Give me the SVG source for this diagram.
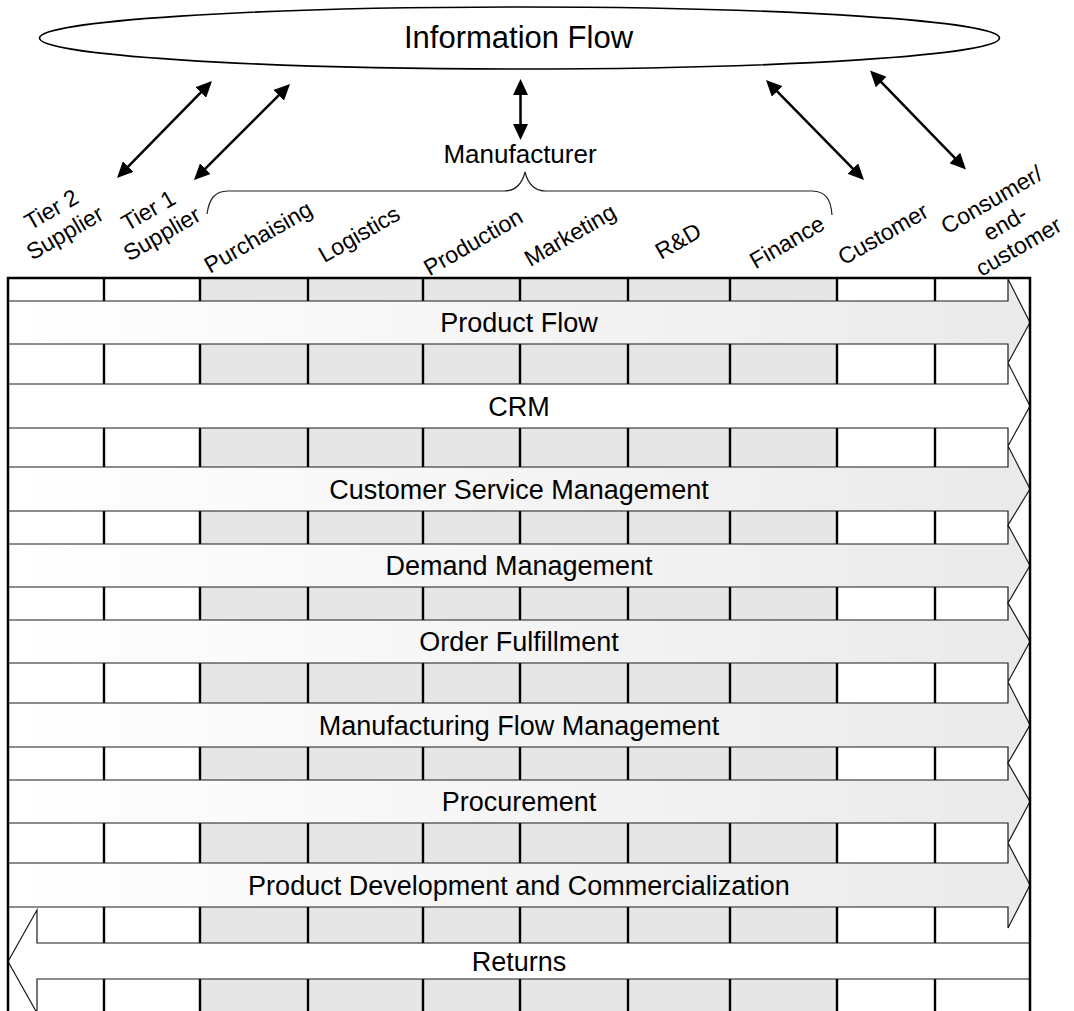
<svg xmlns="http://www.w3.org/2000/svg" width="1074" height="1011" viewBox="0 0 1074 1011">
  <style>
    .txt { font-family: "Liberation Sans", Arial, Helvetica, sans-serif; fill: #000; }
    .big { font-size: 31px; }
    .mid { font-size: 26px; }
    .proc { font-size: 27px; }
    .col { font-size: 23px; }
    .band { stroke: #1a1a1a; stroke-width: 1.2; stroke-linejoin: miter; }
    .shade { fill: url(#bandFill); }
    .plain { fill: #ffffff; }
    .divider { stroke: #000; stroke-width: 2.4; }
    .conn { stroke: #000; stroke-width: 2.5; fill: none; marker-start: url(#head); marker-end: url(#head); }
  </style>
  <defs>
    <linearGradient id="bandFill" x1="0" y1="0" x2="1" y2="0">
      <stop offset="0" stop-color="#ffffff"/>
      <stop offset="1" stop-color="#eaeaea"/>
    </linearGradient>
    <marker id="head" viewBox="0 0 16 15" refX="12" refY="7.5" markerWidth="16" markerHeight="15" markerUnits="userSpaceOnUse" orient="auto-start-reverse">
      <path d="M0,0 L16,7.5 L0,15 z" fill="#000"/>
    </marker>
  </defs>

  <rect width="1074" height="1011" fill="#fff"/>

  <!-- Information flow ellipse -->
  <g id="information-flow">
    <ellipse cx="519.5" cy="38" rx="480" ry="31" fill="#fff" stroke="#000" stroke-width="1.6"/>
    <text class="txt big" x="518.5" y="48" text-anchor="middle">Information Flow</text>
  </g>

  <!-- Manufacturer label with brace over its functions -->
  <g id="manufacturer">
    <text class="txt mid" x="520" y="163" text-anchor="middle">Manufacturer</text>
    <path d="M207,214 C209,200 214,191 228,191 H504 C515,191 522,184 525,172 C528,184 535,191 546,191 H812 C826,191 831,200 832,215" fill="none" stroke="#222" stroke-width="1.2"/>
  </g>

  <!-- Column headings (rotated) -->
  <g id="tier2-supplier" transform="translate(58,221) rotate(-30)">
    <text class="txt col" text-anchor="middle"><tspan x="0" y="-5.5">Tier 2</tspan><tspan x="0" y="21.5">Supplier</tspan></text>
  </g>
  <g id="tier1-supplier" transform="translate(155,222) rotate(-30)">
    <text class="txt col" text-anchor="middle"><tspan x="0" y="-5.5">Tier 1</tspan><tspan x="0" y="21.5">Supplier</tspan></text>
  </g>
  <g id="purchasing" transform="translate(258,237) rotate(-30)">
    <text class="txt col" x="0" y="8" text-anchor="middle">Purchaising</text>
  </g>
  <g id="logistics" transform="translate(359,234) rotate(-30)">
    <text class="txt col" x="0" y="8" text-anchor="middle">Logistics</text>
  </g>
  <g id="production" transform="translate(473,242) rotate(-30)">
    <text class="txt col" x="0" y="8" text-anchor="middle">Production</text>
  </g>
  <g id="marketing" transform="translate(570,235) rotate(-30)">
    <text class="txt col" x="0" y="8" text-anchor="middle">Marketing</text>
  </g>
  <g id="rnd" transform="translate(678,241) rotate(-30)">
    <text class="txt col" x="0" y="8" text-anchor="middle">R&amp;D</text>
  </g>
  <g id="finance" transform="translate(787,242) rotate(-30)">
    <text class="txt col" x="0" y="8" text-anchor="middle">Finance</text>
  </g>
  <g id="customer" transform="translate(883,234) rotate(-30)">
    <text class="txt col" x="0" y="8" text-anchor="middle">Customer</text>
  </g>
  <g id="consumer" transform="translate(1005,223) rotate(-30)">
    <text class="txt col" text-anchor="middle"><tspan x="0" y="-19">Consumer/</tspan><tspan x="0" y="8">end-</tspan><tspan x="0" y="35">customer</tspan></text>
  </g>

  <!-- Function grid behind the process bands -->
  <g id="grid">
    <rect x="200" y="278" width="637" height="740" fill="#e6e6e6"/>
    <g class="divider">
      <line x1="104" y1="278" x2="104" y2="1011"/>
      <line x1="200" y1="278" x2="200" y2="1011"/>
      <line x1="308" y1="278" x2="308" y2="1011"/>
      <line x1="423" y1="278" x2="423" y2="1011"/>
      <line x1="520" y1="278" x2="520" y2="1011"/>
      <line x1="628" y1="278" x2="628" y2="1011"/>
      <line x1="730" y1="278" x2="730" y2="1011"/>
      <line x1="837" y1="278" x2="837" y2="1011"/>
      <line x1="935" y1="278" x2="935" y2="1011"/>
    </g>
  </g>

  <!-- Process bands -->
  <g id="product-flow">
    <path class="band shade" d="M8,301 H1008 V279 L1030,322.5 L1008,363 V344 H8 Z"/>
    <text class="txt proc" x="519" y="332" text-anchor="middle">Product Flow</text>
  </g>
  <g id="crm">
    <path class="band plain" d="M8,384 H1008 V363 L1030,406 L1008,446 V428 H8 Z"/>
    <text class="txt proc" x="519" y="415.5" text-anchor="middle">CRM</text>
  </g>
  <g id="customer-service-management">
    <path class="band shade" d="M8,467 H1008 V446 L1030,489 L1008,525 V511 H8 Z"/>
    <text class="txt proc" x="519" y="498.5" text-anchor="middle">Customer Service Management</text>
  </g>
  <g id="demand-management">
    <path class="band shade" d="M8,544 H1008 V525 L1030,565.5 L1008,603 V587 H8 Z"/>
    <text class="txt proc" x="519" y="575" text-anchor="middle">Demand Management</text>
  </g>
  <g id="order-fulfillment">
    <path class="band shade" d="M8,620 H1008 V603 L1030,641.5 L1008,682 V663 H8 Z"/>
    <text class="txt proc" x="519" y="651" text-anchor="middle">Order Fulfillment</text>
  </g>
  <g id="manufacturing-flow-management">
    <path class="band shade" d="M8,703 H1008 V682 L1030,725 L1008,763 V747 H8 Z"/>
    <text class="txt proc" x="519" y="734.5" text-anchor="middle">Manufacturing Flow Management</text>
  </g>
  <g id="procurement">
    <path class="band shade" d="M8,780 H1008 V763 L1030,801.5 L1008,843 V823 H8 Z"/>
    <text class="txt proc" x="519" y="811" text-anchor="middle">Procurement</text>
  </g>
  <g id="product-development">
    <path class="band shade" d="M8,863 H1008 V843 L1030,885 L1008,928 V907 H8 Z"/>
    <text class="txt proc" x="519" y="894.5" text-anchor="middle">Product Development and Commercialization</text>
  </g>
  <g id="returns">
    <path class="band plain" d="M1030,943 H37 V910 L8,961.5 L37,1013 V979 H1030 Z"/>
    <text class="txt proc" x="519" y="970.5" text-anchor="middle">Returns</text>
  </g>

  <!-- Outer frame -->
  <rect x="8" y="278" width="1022" height="760" fill="none" stroke="#000" stroke-width="2.5"/>

  <!-- Information exchange connectors -->
  <g id="connectors">
    <path class="conn" d="M209.2,83.9 L119.8,175.1"/>
    <path class="conn" d="M287.2,86.8 L196.8,177.2"/>
    <path class="conn" d="M520.5,83 L520.5,136"/>
    <path class="conn" d="M768.8,82.9 L861.2,177.1"/>
    <path class="conn" d="M872.8,73.4 L963.2,166.6"/>
  </g>
</svg>
